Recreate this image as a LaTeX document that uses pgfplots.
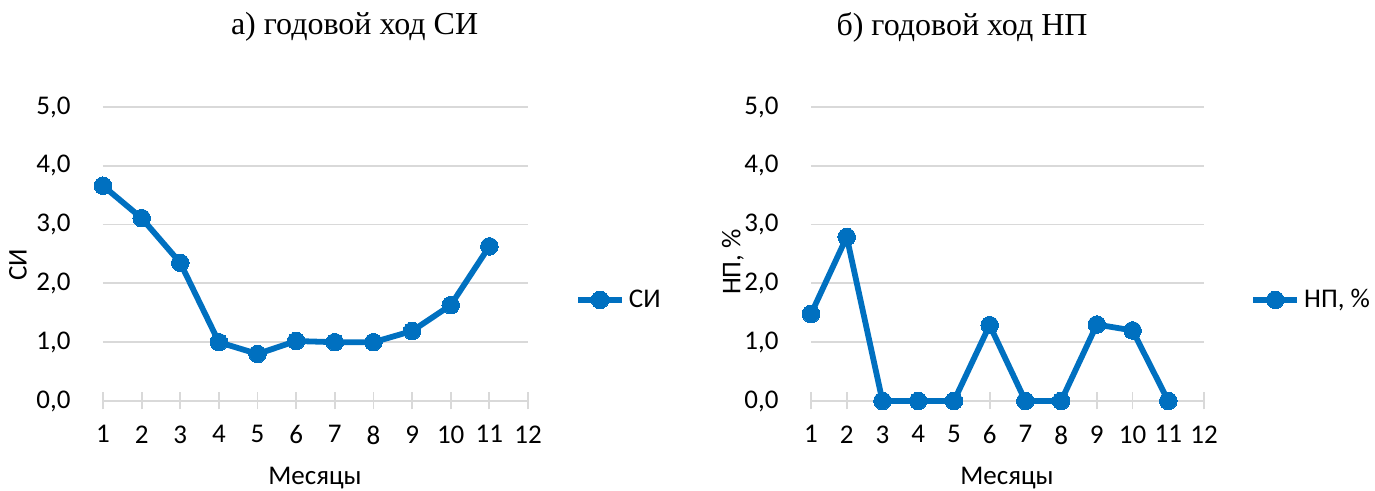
\documentclass[border=0pt]{standalone}
\usepackage{fontspec}
\setmainfont{Liberation Serif}
\newfontfamily\calibri{Carlito}
\usepackage{pgfplots}
\pgfplotsset{compat=1.18}
\definecolor{xlblue}{HTML}{0070C0}
\definecolor{gridgray}{HTML}{D9D9D9}

\pgfplotsset{
  panel/.style={
    scale only axis,
    height=147pt,
    xmin=1, xmax=12, ymin=0, ymax=5,
    xtick={1,...,12}, ytick={0,1,...,5},
    axis x line*=bottom,
    axis y line*=left,
    y axis line style={draw=none},
    x axis line style={draw=gridgray, line width=0.9pt},
    ytick style={draw=none},
    xtick style={draw=gridgray, line width=0.9pt},
    tick align=center,
    major tick length=8.5pt,
    ymajorgrids,
    grid style={draw=gridgray, line width=0.9pt},
    ticklabel style={font=\calibri\fontsize{13.5}{15}\selectfont, text=black},
    /pgf/number format/assume math mode=true,
    yticklabel style={/pgf/number format/fixed, /pgf/number format/fixed zerofill,
      /pgf/number format/precision=1, /pgf/number format/use comma},
    yticklabel style={xshift=-8.5pt},
    xticklabel style={yshift=-4.5pt},
    legend style={draw=none, fill=none, anchor=west, inner sep=0pt,
      font=\calibri\fontsize{13.5}{15}\selectfont},
    legend image code/.code={
      \draw[mark repeat=2, mark phase=2, #1] plot coordinates {(0pt,0pt) (11pt,0pt) (22pt,0pt)};
    },
    clip=false,
  },
  ser/.style={color=xlblue, line width=2.9pt, mark=*, mark size=4.4pt,
    mark options={solid, fill=xlblue, draw=xlblue, line width=0pt}},
}

\begin{document}
\begin{tikzpicture}
\path[use as bounding box] (0,0) rectangle (687.5pt,245.5pt);

\begin{axis}[panel, width=212.5pt, at={(51.5pt,45pt)}, anchor=south west,
  legend style={at={(rel axis cs:1.11,0.344)}}]
\addplot[ser] coordinates {
  (1,3.66) (2,3.11) (3,2.35) (4,1.00) (5,0.80) (6,1.02)
  (7,1.00) (8,1.00) (9,1.19) (10,1.63) (11,2.63)
};
\addlegendentry{СИ}
\end{axis}

\begin{axis}[panel, width=196.5pt, at={(405.5pt,45pt)}, anchor=south west,
  legend style={at={(rel axis cs:1.117,0.344)}}]
\addplot[ser] coordinates {
  (1,1.48) (2,2.79) (3,0) (4,0) (5,0) (6,1.29)
  (7,0) (8,0) (9,1.30) (10,1.20) (11,0)
};
\addlegendentry{НП, \%}
\end{axis}

\node[font=\fontsize{16}{19}\selectfont] at (177.3pt,232pt) {а) годовой ход СИ};
\node[font=\fontsize{16}{19}\selectfont] at (481pt,232pt) {б) годовой ход НП};
\node[font=\calibri\fontsize{13.5}{15}\selectfont, rotate=90] at (9pt,113pt) {СИ};
\node[font=\calibri\fontsize{13.5}{15}\selectfont, rotate=90] at (366.5pt,114.5pt) {НП, \%};
\node[font=\calibri\fontsize{13.5}{15}\selectfont] at (157.5pt,6.5pt) {Месяцы};
\node[font=\calibri\fontsize{13.5}{15}\selectfont] at (503.5pt,6.5pt) {Месяцы};
\end{tikzpicture}
\end{document}
